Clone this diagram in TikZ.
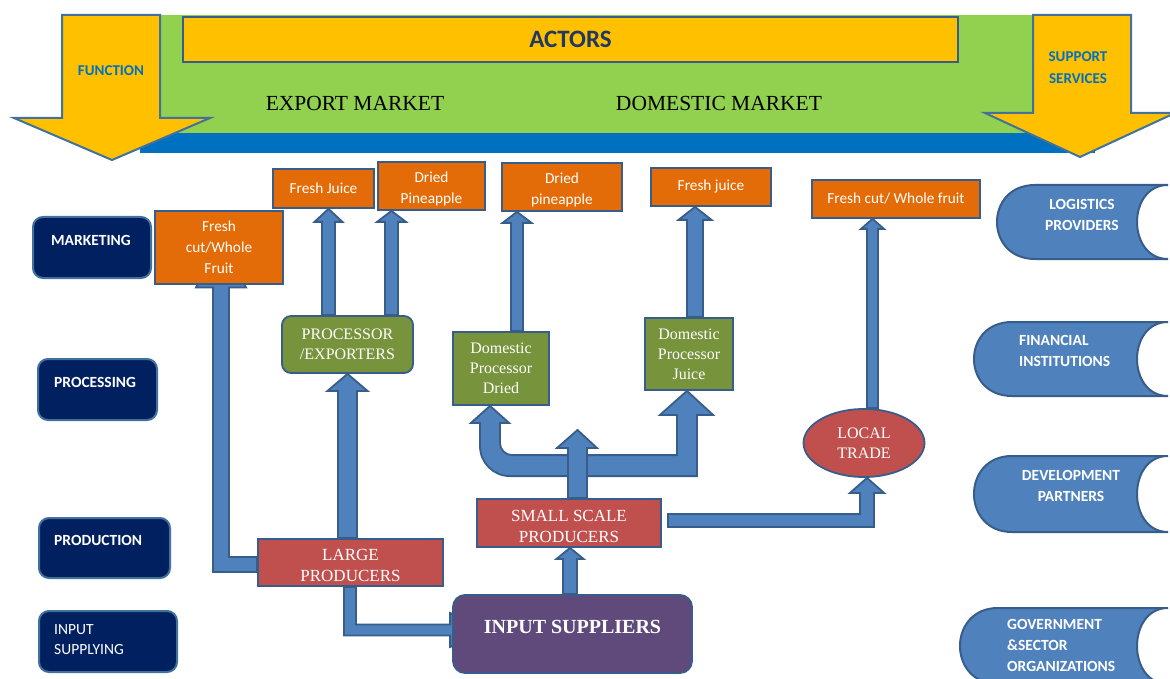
\documentclass[tikz,border=0pt]{standalone}
\usepackage{fontspec}
\setmainfont{Liberation Serif}
\newfontfamily\calib{Carlito}
\usetikzlibrary{calc,shapes.geometric}
\definecolor{cgreen}{HTML}{92D050}
\definecolor{cblue}{HTML}{0070C0}
\definecolor{cyel}{HTML}{FFC000}
\definecolor{ctitle}{HTML}{1F3864}
\definecolor{cnavy}{HTML}{002060}
\definecolor{cedge}{HTML}{385D8A}
\definecolor{cyedge}{HTML}{41719C}
\definecolor{corange}{HTML}{E36C09}
\definecolor{colive}{HTML}{77933C}
\definecolor{cred}{HTML}{C0504D}
\definecolor{cpurple}{HTML}{604A7B}
\definecolor{csteel}{HTML}{4F81BD}
\pgfdeclarelayer{bg}
\pgfsetlayers{bg,main}
\newcommand\vup[6]{%
  \draw[barrow] let \p1=(#1.north), \p2=(#2.south) in
   ({#3pt-#4pt},\y1) -- ({#3pt-#4pt},{\y2-#6pt}) -- ({#3pt-#5pt},{\y2-#6pt}) -- (#3pt,\y2)
   -- ({#3pt+#5pt},{\y2-#6pt}) -- ({#3pt+#4pt},{\y2-#6pt}) -- ({#3pt+#4pt},\y1) -- cycle;}
\newcommand\supshape[4]{%
  \draw[sshape] ({#1+38},#3) -- (#2,#3) .. controls ({#2-41.3},#3) and ({#2-41.3},#4) .. (#2,#4)
   -- ({#1+38},#4) .. controls ({#1-12.7},#4) and ({#1-12.7},#3) .. ({#1+38},#3) -- cycle;}
\begin{document}
\begin{tikzpicture}[x=1pt,y=-1pt,
  box/.style={draw=cedge, line width=1.8pt, inner sep=0pt, text=white, align=center},
  obox/.style={box, fill=corange, font=\calib\fontsize{15.3}{21}\selectfont},
  gbox/.style={box, fill=colive, font=\fontsize{16}{20}\selectfont},
  rbox/.style={box, fill=cred, font=\fontsize{17}{21}\selectfont},
  olbl/.style={text=white, align=center, inner sep=0pt, font=\calib\fontsize{15.3}{21}\selectfont, yshift=-3pt},
  rlbl/.style={text=white, align=center, inner sep=0pt, font=\fontsize{17}{21}\selectfont, yshift=-3pt},
  nbox/.style={draw=cyedge, line width=2pt, fill=cnavy, rounded corners=10pt},
  ntext/.style={text=white, font=\calib\bfseries\fontsize{15.5}{20}\selectfont, anchor=west, inner sep=0pt},
  stext/.style={text=white, font=\calib\bfseries\fontsize{15.5}{21}\selectfont, inner sep=0pt},
  sshape/.style={fill=csteel, draw=cedge, line width=2pt},
  barrow/.style={fill=csteel, draw=cedge, line width=1.8pt},
  yarrow/.style={fill=cyel, draw=cyedge, line width=2pt},
  ytext/.style={text=cblue, font=\calib\bfseries\fontsize{15}{22}\selectfont, align=center, inner sep=0pt},
  mtext/.style={font=\fontsize{21.5}{26}\selectfont, inner sep=0pt}]
\useasboundingbox (0,0) rectangle (1170,679);
\begin{pgfonlayer}{bg}
\fill[white] (0,0) rectangle (1170,679);
\end{pgfonlayer}
% top band
\fill[cgreen] (140,15) rectangle (1095,133);
\fill[cblue] (140,133) rectangle (1095,153);
\node[draw=cedge, line width=1.8pt, fill=cyel, minimum width=775pt, minimum height=45pt, inner sep=0pt,
      text=ctitle, font=\calib\bfseries\fontsize{25}{30}\selectfont] (act) at (570.5,39.5) {ACTORS};
\node[mtext] (exm) at (355,103) {EXPORT MARKET};
\node[mtext] (dom) at (719,103) {DOMESTIC MARKET};
\draw[yarrow] (62,15) -- (160,15) -- (160,118) -- (210,118) -- (112,160) -- (14,118) -- (62,118) -- cycle;
\node[ytext] (fun) at (111,71) {FUNCTION};
\draw[yarrow] (1033,15) -- (1131,15) -- (1131,113) -- (1175,113) -- (1080,157) -- (985,113) -- (1033,113) -- cycle;
\node[ytext] (sup) at (1078,68) {SUPPORT\\SERVICES};
% function boxes
\node[nbox, minimum width=118pt, minimum height=61pt] (mk) at (92,247.5) {};
\node[ntext] (mkt) at (51,240) {MARKETING};
\node[nbox, minimum width=119pt, minimum height=61pt] (pr) at (97.5,389.5) {};
\node[ntext] (prt) at (54,382) {PROCESSING};
\node[nbox, minimum width=131pt, minimum height=60pt] (pd) at (104.5,548) {};
\node[ntext] (pdt) at (54,540) {PRODUCTION};
\node[nbox, minimum width=138pt, minimum height=61pt] (isu) at (108,641.5) {};
\node[ntext, font=\calib\fontsize{15.5}{20}\selectfont, align=left] (isut) at (54,640) {INPUT\\SUPPLYING};
% support services
\supshape{997}{1168}{185}{259}
\node[stext, align=center] (lgt) at (1082,214.5) {LOGISTICS\\PROVIDERS};
\supshape{974}{1168}{322}{396}
\node[stext, align=left, anchor=west] (fit) at (1019,351) {FINANCIAL\\INSTITUTIONS};
\supshape{974}{1168}{456}{532}
\node[stext, align=center] (dvt) at (1071,485.5) {DEVELOPMENT\\PARTNERS};
\supshape{960}{1168}{608}{684}
\node[stext, align=left, anchor=west] (gvt) at (1007,645) {GOVERNMENT\\\&SECTOR\\ORGANIZATIONS};
% market products
\node[obox, minimum width=128pt, minimum height=73pt] (fcw) at (219,247.5) {Fresh\\cut/Whole\\Fruit};
\node[obox, minimum width=101pt, minimum height=39pt] (fj) at (323.5,188.5) {Fresh Juice};
\node[obox, minimum width=107pt, minimum height=48pt, label={[olbl]center:{Dried\\Pineapple}}] (dp1) at (431.5,186) {};
\node[obox, minimum width=120pt, minimum height=48pt, label={[olbl]center:{Dried\\pineapple}}] (dp2) at (562,187) {};
\node[obox, minimum width=120pt, minimum height=38pt] (fj2) at (711,187) {Fresh juice};
\node[obox, minimum width=168pt, minimum height=38pt] (fcw2) at (896,199) {Fresh cut/ Whole fruit};
% processors
\node[gbox, rounded corners=9pt, minimum width=131pt, minimum height=57pt] (pe) at (347.5,344.5) {PROCESSOR\\/EXPORTERS};
\node[gbox, minimum width=96pt, minimum height=73pt] (dpd) at (501,368.5) {Domestic\\Processor\\Dried};
\node[gbox, minimum width=88pt, minimum height=72pt] (dpj) at (689,354) {Domestic\\Processor\\Juice};
% producers
\node[rbox, minimum width=184pt, minimum height=48pt, label={[rlbl]center:{SMALL SCALE\\PRODUCERS}}] (ss) at (569,523) {};
\node[rbox, minimum width=185pt, minimum height=47pt, label={[rlbl]center:{LARGE\\PRODUCERS}}] (lp) at (350.5,562.5) {};
\node[box, ellipse, fill=cred, font=\fontsize{16}{20}\selectfont, minimum width=121pt, minimum height=68pt] (lt) at (864,443) {LOCAL\\TRADE};
\node[box, fill=cpurple, rounded corners=12pt, minimum width=239pt, minimum height=78pt,
      label={[text=white, font=\bfseries\fontsize{20}{24}\selectfont, yshift=7pt]center:INPUT SUPPLIERS}] (is) at (572.5,634) {};
% block arrows
\begin{pgfonlayer}{bg}
\vup{lp}{pe}{347.5}{9.5}{20}{17}
\vup{pe}{fj}{328.5}{6.5}{14}{13}
\vup{pe}{dp1}{391.5}{6.5}{14.5}{11}
\vup{dpd}{dp2}{517}{6}{14.5}{11}
\vup{dpj}{fj2}{695}{8}{16.5}{13}
\vup{lt}{fcw2}{872.5}{5.5}{11.5}{10}
\vup{is}{ss}{570}{7}{13.5}{11}
% large producers -> fresh cut/whole fruit (head hidden behind the box)
\draw[barrow] let \p1=($(lp.west)+(0,2)$), \p2=(fcw.south) in
  (\x1,\y1+7.5pt) -- (229pt,\y1+7.5pt) -- (229pt,\y2-2.5pt) -- (246pt,\y2-2.5pt) -- (221pt,\y2+40pt)
  -- (196pt,\y2-2.5pt) -- (213pt,\y2-2.5pt) -- (213pt,\y1-7.5pt) -- (\x1,\y1-7.5pt) -- cycle;
% large producers -> input suppliers (head hidden behind the box)
\draw[barrow] let \p1=(lp.south), \p3=($(is.west)+(0,-4)$) in
  (344pt,\y1) -- (344pt,\y3-5.5pt) -- (\x3-2pt,\y3-5.5pt) -- (\x3-2pt,\y3-17pt) -- (\x3+40pt,\y3)
  -- (\x3-2pt,\y3+17pt) -- (\x3-2pt,\y3+5.5pt) -- (356pt,\y3+5.5pt) -- (356pt,\y1) -- cycle;
% small scale -> local trade
\draw[barrow] let \p1=($(ss.east)+(6,-2.5)$), \p2=(lt.south) in
  (\x1,\y1+6.5pt) -- (860pt,\y1+6.5pt) -- (860pt,\y2-15pt) -- (850pt,\y2-15pt) -- (867pt,\y2)
  -- (884pt,\y2-15pt) -- (874pt,\y2-15pt) -- (874pt,\y1-6.5pt) -- (\x1,\y1-6.5pt) -- cycle;
% small scale -> domestic processors (branch)
\draw[barrow] let \p1=(dpd.south), \p2=(dpj.south), \p3=(ss.north) in
  (500pt,\y1-17pt) -- (509pt,\y1-17pt) -- (490pt,\y1) -- (471pt,\y1-17pt) -- (480pt,\y1-17pt)
  -- (480pt,\y3+52pt) .. controls (480pt,\y3+35.4pt) and (493.4pt,\y3+22pt) .. (510pt,\y3+22pt)
  -- (697pt,\y3+22pt) -- (697pt,\y2-24pt) -- (713pt,\y2-24pt) -- (687pt,\y2) -- (660pt,\y2-24pt)
  -- (677pt,\y2-24pt) -- (677pt,\y3+43pt) -- (512pt,\y3+43pt)
  .. controls (505.4pt,\y3+43pt) and (500pt,\y3+48.4pt) .. (500pt,\y3+55pt) -- cycle;
\coordinate (mid) at (577.5,430);
\draw[barrow] let \p3=(ss.north), \p4=(mid) in
  (568pt,\y3) -- (568pt,\y4-18pt) -- (557pt,\y4-18pt) -- (\x4,\y4) -- (597pt,\y4-18pt)
  -- (587pt,\y4-18pt) -- (587pt,\y3) -- cycle;
\end{pgfonlayer}
\end{tikzpicture}
\end{document}
